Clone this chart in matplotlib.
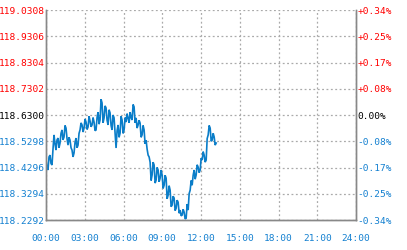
import numpy as np
import matplotlib
matplotlib.use("Agg")
import matplotlib.pyplot as plt

# Data (price sampled roughly every 4.65 minutes from 00:00)
prices = [118.458, 118.430, 118.420, 118.470, 118.477, 118.445, 118.439, 118.500, 118.554, 118.520,
          118.496, 118.535, 118.542, 118.505, 118.523, 118.560, 118.573, 118.535, 118.546, 118.590,
          118.580, 118.540, 118.515, 118.545, 118.534, 118.505, 118.496, 118.470, 118.485, 118.525,
          118.542, 118.505, 118.515, 118.560, 118.573, 118.600, 118.592, 118.565, 118.580, 118.615,
          118.603, 118.575, 118.584, 118.625, 118.607, 118.585, 118.592, 118.620, 118.603, 118.570,
          118.573, 118.620, 118.641, 118.595, 118.611, 118.690, 118.676, 118.600, 118.619, 118.665,
          118.657, 118.610, 118.592, 118.650, 118.638, 118.590, 118.573, 118.630, 118.619, 118.560,
          118.504, 118.570, 118.592, 118.545, 118.561, 118.625, 118.611, 118.560, 118.573, 118.620,
          118.603, 118.635, 118.619, 118.600, 118.641, 118.620, 118.611, 118.670, 118.661, 118.600,
          118.619, 118.580, 118.592, 118.610, 118.599, 118.545, 118.554, 118.590, 118.573, 118.520,
          118.534, 118.500, 118.477, 118.470, 118.450, 118.380, 118.401, 118.450, 118.439, 118.370,
          118.381, 118.430, 118.420, 118.375, 118.389, 118.420, 118.401, 118.350, 118.362, 118.400,
          118.389, 118.310, 118.324, 118.360, 118.343, 118.280, 118.286, 118.320, 118.313, 118.265,
          118.274, 118.305, 118.297, 118.255, 118.267, 118.245, 118.248, 118.270, 118.259, 118.233,
          118.236, 118.290, 118.267, 118.330, 118.343, 118.380, 118.362, 118.400, 118.420, 118.385,
          118.401, 118.440, 118.431, 118.410, 118.420, 118.465, 118.458, 118.490, 118.477, 118.450,
          118.458, 118.540, 118.554, 118.590, 118.580, 118.530, 118.534, 118.560, 118.546, 118.515,
          118.523]
start_min = 0
step_min = 4.65
minutes = start_min + step_min * np.arange(len(prices))

base = 118.6300
y_ticks = [118.2292, 118.3294, 118.4296, 118.5298, 118.6300, 118.7302, 118.8304, 118.9306, 119.0308]
y_labels = ["118.2292", "118.3294", "118.4296", "118.5298", "118.6300", "118.7302", "118.8304", "118.9306", "119.0308"]
pct_labels = ["-0.34%", "-0.25%", "-0.17%", "-0.08%", "0.00%", "+0.08%", "+0.17%", "+0.25%", "+0.34%"]
x_ticks = [0, 180, 360, 540, 720, 900, 1080, 1260, 1440]
x_labels = ["00:00", "03:00", "06:00", "09:00", "12:00", "15:00", "18:00", "21:00", "24:00"]

RED = "#ff0000"
BLUE = "#1480d0"
BLACK = "#000000"
LINE = "#0a7dc8"

fig = plt.figure(figsize=(4.07, 2.5), dpi=100)
ax = fig.add_axes([46/407, 30/250, 310/407, 210/250])

ax.plot(minutes, prices, color=LINE, lw=1.2, solid_joinstyle="miter")

ax.set_xlim(0, 1440)
ax.set_ylim(y_ticks[0], y_ticks[-1])
ax.set_xticks(x_ticks)
ax.set_xticklabels(x_labels)
ax.set_yticks(y_ticks)
ax.set_yticklabels(y_labels)
ax.grid(True, color="#aaaaaa", linestyle=(0, (1.5, 2)), lw=0.9)

fnt = dict(family="DejaVu Sans Mono", size=6.8)
for lab, v in zip(ax.get_yticklabels(), y_ticks):
    lab.set_fontfamily(fnt["family"]); lab.set_fontsize(fnt["size"])
    lab.set_color(RED if v > base + 1e-9 else (BLACK if abs(v - base) < 1e-9 else BLUE))
for lab in ax.get_xticklabels():
    lab.set_fontfamily(fnt["family"]); lab.set_fontsize(fnt["size"]); lab.set_color(BLUE)
ax.tick_params(axis="both", length=0)
ax.tick_params(axis="y", pad=1)
ax.tick_params(axis="x", pad=10)

ax2 = ax.twinx()
ax2.set_ylim(ax.get_ylim())
ax2.set_yticks(y_ticks)
ax2.set_yticklabels(pct_labels)
for lab, v in zip(ax2.get_yticklabels(), y_ticks):
    lab.set_fontfamily(fnt["family"]); lab.set_fontsize(fnt["size"])
    lab.set_color(RED if v > base + 1e-9 else (BLACK if abs(v - base) < 1e-9 else BLUE))
ax2.tick_params(axis="y", length=0, pad=1)

for a in (ax, ax2):
    for s in ("left", "right", "bottom"):
        a.spines[s].set_color("#888888")
        a.spines[s].set_linewidth(1.0)
    a.spines["top"].set_visible(False)

fig.savefig("out.png", dpi=100)
